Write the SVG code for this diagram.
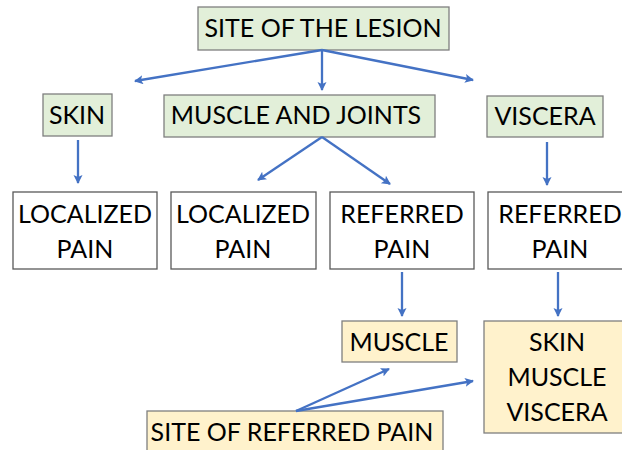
<svg xmlns="http://www.w3.org/2000/svg" width="622" height="450" viewBox="0 0 622 450">
<defs>
<marker id="ah" markerWidth="12" markerHeight="12" refX="8" refY="4.5" orient="auto" markerUnits="userSpaceOnUse">
<path d="M0,0 L9,4.5 L0,9 L2,4.5 Z" fill="#4472c4"/>
</marker>
<style>
.g{fill:#e2efd9;stroke:#7f7f7f;stroke-width:1.3}
.w{fill:#ffffff;stroke:#595959;stroke-width:1.3}
.y{fill:#fff2cc;stroke:#7f7f7f;stroke-width:1.3}
text{font-family:Lato,"Liberation Sans",sans-serif;font-size:25px;fill:#000;text-anchor:middle}
.c line{stroke:#4472c4;stroke-width:2.3;marker-end:url(#ah)}
</style>
</defs>
<rect width="622" height="450" fill="#fff"/>
<g id="lesion"><rect class="g" x="198" y="7" width="251" height="43"/><text x="323" y="37">SITE OF THE LESION</text></g>
<g id="skin"><rect class="g" x="43" y="94" width="69" height="42"/><text x="77" y="124">SKIN</text></g>
<g id="mj"><rect class="g" x="164" y="95" width="271" height="42"/><text x="296" y="124">MUSCLE AND JOINTS</text></g>
<g id="viscera"><rect class="g" x="487" y="96" width="116" height="41"/><text x="545" y="125">VISCERA</text></g>
<g id="loc1"><rect class="w" x="13" y="192" width="144" height="77"/><text x="85" y="223">LOCALIZED</text><text x="85" y="258">PAIN</text></g>
<g id="loc2"><rect class="w" x="171" y="192" width="145" height="77"/><text x="243" y="223">LOCALIZED</text><text x="243" y="258">PAIN</text></g>
<g id="ref1"><rect class="w" x="330" y="192" width="144" height="77"/><text x="402" y="223">REFERRED</text><text x="402" y="258">PAIN</text></g>
<g id="ref2"><rect class="w" x="488" y="192" width="150" height="77"/><text x="560" y="223">REFERRED</text><text x="560" y="258">PAIN</text></g>
<g id="muscle"><rect class="y" x="342" y="321" width="115" height="41"/><text x="399" y="351">MUSCLE</text></g>
<g id="smv"><rect class="y" x="484" y="321" width="150" height="112"/><text x="557" y="351">SKIN</text><text x="557" y="386">MUSCLE</text><text x="557" y="421">VISCERA</text></g>
<g id="site"><rect class="y" x="147" y="411" width="296" height="50"/><text x="292" y="441">SITE OF REFERRED PAIN</text></g>
<g class="c" id="connectors">
<line x1="322" y1="50" x2="135" y2="81"/>
<line x1="322" y1="50" x2="322" y2="90"/>
<line x1="322" y1="50" x2="473" y2="80"/>
<line x1="78" y1="140" x2="78" y2="183"/>
<line x1="322" y1="137" x2="258" y2="180"/>
<line x1="322" y1="137" x2="390" y2="184"/>
<line x1="547" y1="142" x2="547" y2="185"/>
<line x1="402" y1="272" x2="402" y2="316"/>
<line x1="558" y1="272" x2="558" y2="316"/>
<line x1="296" y1="411" x2="389" y2="369"/>
<line x1="296" y1="411" x2="473" y2="381"/>
</g>
</svg>
